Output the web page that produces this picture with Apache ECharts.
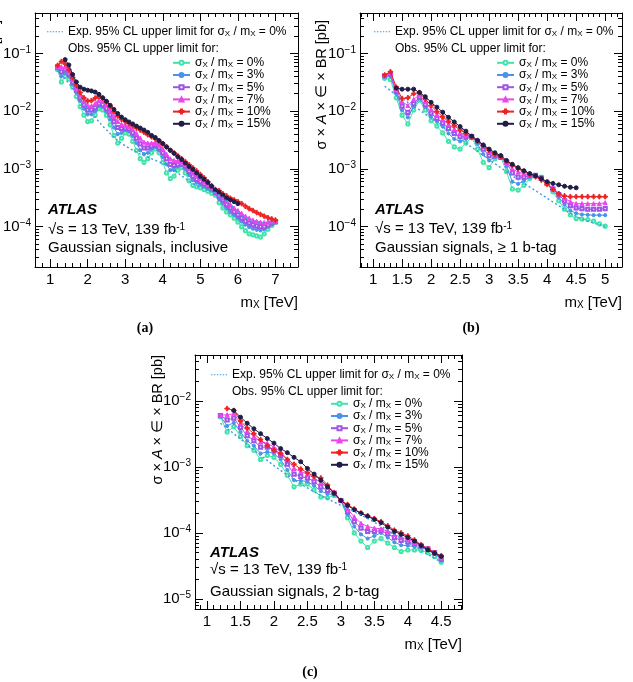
<!DOCTYPE html>
<html><head><meta charset="utf-8">
<script src="https://cdn.jsdelivr.net/npm/echarts@6/dist/echarts.min.js"></script>
<style>html,body{margin:0;padding:0;background:#fff}#c{width:633px;height:682px}</style>
</head><body><div id="c"></div>
<script>
// ---------------- DATA ----------------
const ratios = ['0%','3%','5%','7%','10%','15%'];

// (a) inclusive
const massA = [1.2,1.3,1.4,1.5,1.6,1.7,1.8,1.9,2.0,2.1,2.2,2.3,2.4,2.5,2.6,2.7,2.8,2.9,3.0,3.1,3.2,3.3,3.4,3.5,3.6,3.7,3.8,3.9,4.0,4.1,4.2,4.3,4.4,4.5,4.6,4.7,4.8,4.9,5.0,5.1,5.2,5.3,5.4,5.5,5.6,5.7,5.8,5.9,6.0,6.1,6.2,6.3,6.4,6.5,6.6,6.7,6.8,6.9,7.0];
const a0 = [0.052,0.032,0.040,0.036,0.026,0.018,0.012,0.0085,0.0066,0.0068, 0.0085,0.011,0.0105,0.0085,0.0058,0.0038,0.0028,0.0034,0.0042,0.0040, 0.0030,0.0021,0.0015,0.0013,0.0015,0.0019,0.0022,0.0019,0.0013,0.00085, 0.00068,0.00075,0.00095,0.00105,0.00085,0.00062,0.00052,0.00049,0.00047,0.00044, 0.00041,0.00038,0.00035,0.00026,0.00021,0.00018,0.00016,0.00014,0.00012,0.0001, 0.000085,0.000075,0.000072,0.000069,0.000066,0.000075,0.00009,0.000105,0.000118];
const a3 = [0.055,0.040,0.046,0.040,0.029,0.021,0.015,0.011,0.0088,0.0088, 0.010,0.0122,0.0118,0.0098,0.0072,0.0052,0.0040,0.0042,0.0047,0.0045, 0.0037,0.0028,0.0021,0.0018,0.0019,0.0022,0.0024,0.0021,0.0016,0.0012, 0.00095,0.00095,0.0011,0.00115,0.001,0.00078,0.00064,0.00058,0.00054,0.0005, 0.00046,0.00042,0.00037,0.0003,0.00025,0.00021,0.00018,0.00016,0.00014,0.000122, 0.000108,0.000098,0.000092,0.000088,0.000086,0.00009,0.0001,0.00011,0.00012];
const a5 = [0.057,0.048,0.052,0.044,0.032,0.023,0.017,0.0128,0.0105,0.0105, 0.0115,0.0135,0.013,0.011,0.0086,0.0066,0.0052,0.0050,0.0051,0.0049, 0.0042,0.0034,0.0027,0.0023,0.0023,0.0025,0.0026,0.0023,0.0019,0.0015, 0.0012,0.00115,0.0012,0.00122,0.0011,0.0009,0.00075,0.00066,0.0006,0.00055, 0.0005,0.00045,0.00039,0.00034,0.00029,0.00024,0.00021,0.00018,0.00016,0.00014, 0.000125,0.000115,0.000108,0.000103,0.0001,0.0001,0.000107,0.000115,0.000122];
const a7 = [0.059,0.058,0.058,0.048,0.035,0.025,0.019,0.0148,0.0125,0.0123, 0.0135,0.0155,0.0148,0.0126,0.0101,0.0081,0.0066,0.0059,0.0057,0.0054, 0.0048,0.0041,0.0034,0.0029,0.0028,0.0028,0.0028,0.0026,0.0022,0.0018, 0.0015,0.0014,0.00138,0.00132,0.0012,0.00103,0.00088,0.00076,0.00068,0.0006, 0.00054,0.00048,0.0004,0.00037,0.00032,0.00027,0.00024,0.00021,0.00019,0.00017, 0.000152,0.00014,0.00013,0.000124,0.00012,0.000118,0.00012,0.000122,0.000125];
const a10 = [0.062,0.072,0.066,0.052,0.038,0.028,0.021,0.017,0.015,0.0152, 0.0168,0.018,0.0168,0.0145,0.012,0.0098,0.0082,0.0072,0.0066,0.0061, 0.0056,0.0051,0.0047,0.0043,0.0039,0.0036,0.0033,0.003,0.0027,0.0024, 0.0021,0.00188,0.00168,0.0015,0.00133,0.00118,0.00104,0.00092,0.0008,0.0007, 0.0006,0.00051,0.00044,0.00042,0.00037,0.00034,0.00031,0.00029,0.00027,0.00025, 0.000225,0.000205,0.00019,0.000175,0.000163,0.000152,0.000143,0.000136,0.00013];
const a15 = [null,null,0.078,0.063,0.043,0.032,0.026,0.024,0.023,0.0224, 0.0214,0.0195,0.017,0.0148,0.0126,0.0107,0.0091,0.0079,0.0071,0.0065, 0.006,0.0055,0.0051,0.0047,0.0043,0.0038,0.0035,0.0031,0.00275,0.0024, 0.0021,0.00186,0.00162,0.00145,0.00126,0.0011,0.00098,0.00085,0.00074,0.00066, 0.00058,0.0005,0.00043,0.00039,0.00035,0.00031,0.00029,0.00027,0.00025];
const massExpA = [1.2,1.4,1.6,1.8,2.0,2.2,2.4,2.6,2.8,3.0,3.2,3.4,3.6,3.8,4.0,4.2,4.4,4.6,4.8,5.0,5.2,5.4,5.6,5.8,6.0,6.2,6.4,6.6,6.8,7.0];
const expA = [0.05,0.036,0.025,0.017,0.011,0.0078,0.0055,0.0041,0.0031,0.0025,0.0021,0.0018,0.0016,0.0014,0.00125,0.0011,0.00085,0.00068,0.00056,0.00048,0.00043,0.00039,0.00032,0.00024,0.00018,0.00014,0.000125,0.000118,0.000115,0.000115];

// (b) >= 1 b-tag
const massB = [1.2,1.3,1.4,1.5,1.6,1.7,1.8,1.9,2.0,2.1,2.2,2.3,2.4,2.5,2.6,2.7,2.8,2.9,3.0,3.1,3.2,3.3,3.4,3.5,3.6,3.7,3.8,3.9,4.0,4.1,4.2,4.3,4.4,4.5,4.6,4.7,4.8,4.9,5.0];
const b0 = [0.037,0.035,0.017,0.0085,0.006,0.0105,0.0155,0.0105,0.0068,0.0055, 0.0042,0.003,0.0024,0.0022,0.0028,0.0035,0.0022,0.0013,0.00105,0.0015, 0.0016,0.0009,0.00045,0.00043,0.00052,0.00068,0.00075,0.00072,0.00056,0.0004, 0.00028,0.0002,0.00016,0.000138,0.000135,0.000133,0.000125,0.000112,0.000102];
const b3 = [0.039,0.040,0.020,0.0105,0.0078,0.012,0.0165,0.0118,0.008,0.0066, 0.0054,0.0041,0.0033,0.003,0.0033,0.0037,0.0027,0.0018,0.0014,0.0016, 0.0017,0.0011,0.0006,0.00055,0.00062,0.00072,0.00076,0.0007,0.00056,0.00043, 0.00032,0.00024,0.00019,0.00017,0.000162,0.00016,0.000158,0.000158,0.000158];
const b5 = [0.041,0.044,0.022,0.0122,0.0095,0.0135,0.0175,0.013,0.0092,0.0075, 0.0062,0.005,0.0041,0.0036,0.0036,0.0036,0.003,0.0022,0.0017,0.0017, 0.0016,0.0013,0.00085,0.00072,0.00072,0.00076,0.00077,0.00069,0.00056,0.00045, 0.00036,0.00028,0.00023,0.00021,0.000205,0.0002,0.0002,0.0002,0.000205];
const b7 = [0.043,0.047,0.024,0.0145,0.0125,0.016,0.019,0.0145,0.0108,0.0087, 0.0072,0.0059,0.0049,0.0042,0.0039,0.0036,0.0032,0.0026,0.002,0.0018, 0.0016,0.0013,0.001,0.00088,0.00082,0.00079,0.00076,0.00068,0.00056,0.00046, 0.00038,0.00031,0.00027,0.00025,0.00025,0.00025,0.00025,0.00025,0.00026];
const b10 = [0.042,0.048,0.026,0.0165,0.017,0.02,0.021,0.0162,0.0125,0.0098, 0.008,0.0066,0.0056,0.0047,0.0041,0.0035,0.003,0.0025,0.0021,0.0018, 0.0016,0.00135,0.00115,0.001,0.0009,0.0008,0.00073,0.00064,0.00054,0.00044, 0.00037,0.00034,0.00033,0.00033,0.00033,0.00033,0.00033,0.00033,0.00033];
const b15 = [null,null,0.025,0.024,0.024,0.024,0.021,0.0178,0.0142,0.0117, 0.0096,0.0078,0.0065,0.0054,0.0045,0.0037,0.0031,0.0026,0.0022,0.0019, 0.0017,0.0014,0.0012,0.00105,0.00093,0.00083,0.00076,0.00068,0.0006,0.00056, 0.00053,0.0005,0.00048,0.00047];
const massExpB = [1.2,1.4,1.6,1.8,2.0,2.2,2.4,2.6,2.8,3.0,3.2,3.4,3.6,3.8,4.0,4.2,4.4,4.6,4.8,5.0];
const expB = [0.027,0.019,0.0142,0.0105,0.0075,0.0054,0.0039,0.0028,0.002,0.00145,0.00105,0.00076,0.00056,0.00042,0.00031,0.00023,0.00017,0.000135,0.000115,0.0001];

// (c) 2 b-tag
const massC = [1.2,1.3,1.4,1.5,1.6,1.7,1.8,1.9,2.0,2.1,2.2,2.3,2.4,2.5,2.6,2.7,2.8,2.9,3.0,3.1,3.2,3.3,3.4,3.5,3.6,3.7,3.8,3.9,4.0,4.1,4.2,4.3,4.4,4.5];
const c0 = [0.0058,0.0034,0.0041,0.0029,0.0021,0.0018,0.0013,0.0015,0.0014,0.0011, 0.00075,0.0005,0.00055,0.00055,0.00045,0.00035,0.00034,0.00037,0.00031,0.00017, 0.0001,0.000075,0.00006,0.000075,0.000082,0.00007,0.00006,0.000052,0.000055,0.000055, 0.000054,0.00005,0.000044,0.000036];
const c3 = [0.0059,0.0042,0.0047,0.0034,0.0025,0.0021,0.0016,0.0017,0.0016,0.0013, 0.0009,0.00063,0.00062,0.0006,0.00052,0.00043,0.00039,0.00038,0.00031,0.00019, 0.000125,0.000095,0.000082,0.00009,0.0001,0.000085,0.000072,0.000065,0.000064,0.000062, 0.00006,0.000055,0.000048,0.000038];
const c5 = [0.006,0.0052,0.0055,0.004,0.003,0.0025,0.002,0.002,0.0018,0.0015, 0.0011,0.00078,0.00072,0.00068,0.0006,0.0005,0.00044,0.0004,0.00031,0.00021, 0.000148,0.000118,0.000105,0.000105,0.000108,0.000097,0.000085,0.000077,0.000073,0.000068, 0.000063,0.000057,0.00005,0.00004];
const c7 = [0.0061,0.0062,0.0064,0.0046,0.0035,0.0029,0.0024,0.0023,0.002,0.0017, 0.0013,0.00095,0.00085,0.00078,0.00068,0.00058,0.00049,0.00042,0.00031,0.00023, 0.000175,0.00014,0.000125,0.000118,0.000115,0.000106,0.000094,0.000086,0.00008,0.000072, 0.000065,0.000058,0.000051,0.000042];
const c10 = [null,0.0077,0.0072,0.005,0.0039,0.0032,0.0026,0.0021,0.0018,0.0016, 0.0013,0.0011,0.00093,0.00082,0.00072,0.00068,0.00053,0.0004,0.00031,0.00027, 0.00023,0.0002,0.000182,0.000165,0.000148,0.000128,0.00011,0.0001,0.00009,0.000078, 0.000066,0.000057,0.00005,0.000045];
const c15 = [null,null,0.0072,0.0057,0.0046,0.0038,0.0032,0.0027,0.0023,0.0019, 0.00165,0.0014,0.0012,0.00095,0.00078,0.00063,0.0005,0.0004,0.00031,0.00026, 0.000225,0.000198,0.000178,0.00016,0.000143,0.000122,0.000105,0.000095,0.000085,0.000075, 0.000064,0.000055,0.000049,0.000044];
const massExpC = [1.2,1.4,1.6,1.8,2.0,2.2,2.4,2.6,2.8,3.0,3.2,3.4,3.6,3.8,4.0,4.2,4.4,4.5];
const expC = [0.0046,0.0032,0.0022,0.0015,0.00105,0.00075,0.00055,0.00042,0.00033,0.00026,0.00021,0.000165,0.000127,0.000095,0.000072,0.000054,0.000041,0.000036];

// tick positions
const xMajorA = [1,2,3,4,5,6,7];
const xMinorA = [0.8,1.2,1.4,1.6,1.8,2.2,2.4,2.6,2.8,3.2,3.4,3.6,3.8,4.2,4.4,4.6,4.8,5.2,5.4,5.6,5.8,6.2,6.4,6.6,6.8,7.2,7.4];
const xMajorB = [1,1.5,2,2.5,3,3.5,4,4.5,5];
const xMinorB = [0.8,0.9,1.1,1.2,1.3,1.4,1.6,1.7,1.8,1.9,2.1,2.2,2.3,2.4,2.6,2.7,2.8,2.9,3.1,3.2,3.3,3.4,3.6,3.7,3.8,3.9,4.1,4.2,4.3,4.4,4.6,4.7,4.8,4.9,5.1,5.2];
const xMajorC = [1,1.5,2,2.5,3,3.5,4,4.5];
const xMinorC = [0.9,1.1,1.2,1.3,1.4,1.6,1.7,1.8,1.9,2.1,2.2,2.3,2.4,2.6,2.7,2.8,2.9,3.1,3.2,3.3,3.4,3.6,3.7,3.8,3.9,4.1,4.2,4.3,4.4,4.6,4.7,4.8];
const yMajorAB = [1e-4,1e-3,1e-2,1e-1];
const yMinorAB = [3e-5,4e-5,5e-5,6e-5,7e-5,8e-5,9e-5,2e-4,3e-4,4e-4,5e-4,6e-4,7e-4,8e-4,9e-4,2e-3,3e-3,4e-3,5e-3,6e-3,7e-3,8e-3,9e-3,2e-2,3e-2,4e-2,5e-2,6e-2,7e-2,8e-2,9e-2,2e-1,3e-1,4e-1];
const yMajorC = [1e-5,1e-4,1e-3,1e-2];
const yMinorC = [8e-6,9e-6,2e-5,3e-5,4e-5,5e-5,6e-5,7e-5,8e-5,9e-5,2e-4,3e-4,4e-4,5e-4,6e-4,7e-4,8e-4,9e-4,2e-3,3e-3,4e-3,5e-3,6e-3,7e-3,8e-3,9e-3,2e-2,3e-2,4e-2];

// ---------------- STYLE ----------------
const FONT = '"Liberation Sans", Arial, Helvetica, sans-serif';
const COL = {'0%':'#3fe4a8','3%':'#4a93e8','5%':'#9c55e6','7%':'#ee44ee','10%':'#ee2222','15%':'#1e1e48'};
const EXPCOL = '#3d9be2';
const PLUS = 'path://M3,0h2v3h3v2h-3v3h-2v-3h-3v-2h3z';
const SYM = {'0%':['emptyCircle',3.2],'3%':['circle',3.2],'5%':['emptyRect',3.2],'7%':['triangle',4],'10%':[PLUS,4.5],'15%':['circle',4]};
const DOTS = 'path://M0,0h1.5v1h-1.5z M3,0h1.5v1h-1.5z M6,0h1.5v1h-1.5z M9,0h1.5v1h-1.5z M12,0h1.5v1h-1.5z M15,0h1.5v1h-1.5z';

const panels = [
  {grid:{left:33,top:13,width:265,height:254}, xr:[0.6,7.6], yr:[2e-5,0.5], xMaj:xMajorA, xMin:xMinorA, yMaj:yMajorAB, yMin:yMinorAB,
   mass:massA, obs:[a0,a3,a5,a7,a10,a15], expM:massExpA, exp:expA,
   expLeg:{left:47, top:25.8}, obsText:{x:68,y:49}, obsLeg:{left:172, top:56.8}, atlas:{x:48,y:210}, dy:[20,38],
   sel:'inclusive', xname:{x:298,y:303}, yname:{x:-5,y:20}, cap:{t:'(a)',x:145,y:328}},
  {grid:{left:360,top:13,width:262,height:254}, xr:[0.775,5.29], yr:[2e-5,0.5], xMaj:xMajorB, xMin:xMinorB, yMaj:yMajorAB, yMin:yMinorAB,
   mass:massB, obs:[b0,b3,b5,b7,b10,b15], expM:massExpB, exp:expB,
   expLeg:{left:374, top:25.8}, obsText:{x:395,y:49}, obsLeg:{left:496, top:56.8}, atlas:{x:375,y:210}, dy:[19,38],
   sel:'\u2265 1 b-tag', xname:{x:622,y:303}, yname:{x:322,y:20}, cap:{t:'(b)',x:471,y:328}},
  {grid:{left:195,top:355,width:267,height:254}, xr:[0.82,4.81], yr:[7e-6,0.05], xMaj:xMajorC, xMin:xMinorC, yMaj:yMajorC, yMin:yMinorC,
   mass:massC, obs:[c0,c3,c5,c7,c10,c15], expM:massExpC, exp:expC,
   expLeg:{left:211, top:368.8}, obsText:{x:232,y:392}, obsLeg:{left:330, top:397.8}, atlas:{x:210,y:553}, dy:[17,39],
   sel:'2 b-tag', xname:{x:462,y:645}, yname:{x:158,y:355}, cap:{t:'(c)',x:310,y:672}}
];

function pairs(m, v){ const out=[]; for(let i=0;i<v.length;i++){ if(v[i]!=null) out.push([m[i], v[i]]); } return out; }

const BLACK = {color:'#000', width:1};
const xAxis=[], yAxis=[], series=[], legend=[], graphic=[];
const supRich = {b:{fontSize:15, fontFamily:FONT, color:'#000', lineHeight:17}, s:{fontSize:10, fontFamily:FONT, color:'#000', verticalAlign:'top', lineHeight:10}};
const legRich = {t:{fontSize:12, fontFamily:FONT, color:'#000', lineHeight:12.4}, x:{fontSize:8, fontFamily:FONT, color:'#000', verticalAlign:'bottom', lineHeight:7}};

panels.forEach((p,g)=>{
  const xb = {gridIndex:g, type:'value', min:p.xr[0], max:p.xr[1], splitLine:{show:false}};
  const maj = (vals, lab, pos) => ({...xb, position:pos, axisLine:{show:true,onZero:false,lineStyle:BLACK},
      axisTick:{show:true,inside:true,length:8,customValues:vals,lineStyle:BLACK},
      axisLabel: lab ? {show:true,customValues:vals,fontSize:15,fontFamily:FONT,color:'#000',margin:5} : {show:false}});
  const mnr = (vals, pos) => ({...xb, position:pos, axisLine:{show:false},
      axisTick:{show:true,inside:true,length:4,customValues:vals,lineStyle:BLACK}, axisLabel:{show:false}});
  xAxis.push(maj(p.xMaj,true,'bottom'), mnr(p.xMin,'bottom'), maj(p.xMaj,false,'top'), mnr(p.xMin,'top'));
  const yb = {gridIndex:g, type:'log', logBase:10, min:p.yr[0], max:p.yr[1], splitLine:{show:false}};
  const ymaj = (vals, lab, pos) => ({...yb, position:pos, axisLine:{show:true,onZero:false,lineStyle:BLACK},
      axisTick:{show:true,inside:true,length:8,customValues:vals,lineStyle:BLACK},
      axisLabel: lab ? {show:true,customValues:vals,margin:4,
        formatter:v=>'{b|10}{s|\u2212'+Math.round(-Math.log10(v))+'}', rich:supRich} : {show:false}});
  const ymnr = (vals, pos) => ({...yb, position:pos, axisLine:{show:false},
      axisTick:{show:true,inside:true,length:4,customValues:vals,lineStyle:BLACK}, axisLabel:{show:false}});
  yAxis.push(ymaj(p.yMaj,true,'left'), ymnr(p.yMin,'left'), ymaj(p.yMaj,false,'right'), ymnr(p.yMin,'right'));

  p.obs.forEach((vals,k)=>{
    const r = ratios[k];
    series.push({type:'line', name:r, xAxisIndex:4*g, yAxisIndex:4*g, data:pairs(p.mass, vals),
      symbol:SYM[r][0], symbolSize:SYM[r][1], showSymbol:true, lineStyle:{width:1,color:COL[r]},
      itemStyle:{color:COL[r], borderColor:COL[r], borderWidth:1}, emphasis:{disabled:true}, z:2+k, animation:false});
  });
  series.push({type:'line', name:'exp', xAxisIndex:4*g, yAxisIndex:4*g, data:pairs(p.expM,p.exp),
      symbol:'none', lineStyle:{width:1.4,color:EXPCOL,type:[2,2.5]}, itemStyle:{color:EXPCOL}, emphasis:{disabled:true}, z:10, animation:false});

  legend.push({left:p.obsLeg.left, top:p.obsLeg.top, orient:'vertical', itemWidth:17, itemHeight:5, itemGap:0, padding:0,
    selectedMode:false, data:ratios, formatter:n=>'{t|\u03c3}{x|X}{t| / m}{x|X}{t| = '+n+'}', textStyle:{rich:legRich}});
  legend.push({left:p.expLeg.left, top:p.expLeg.top, orient:'vertical', itemWidth:16, itemHeight:1.5, padding:0,
    selectedMode:false, data:[{name:'exp', icon:DOTS}], formatter:()=>'{t|Exp. 95% CL upper limit for \u03c3}{x|X}{t| / m}{x|X}{t| = 0%}', textStyle:{rich:legRich}});

  const txt = (x,y,text,opts) => ({type:'text', x, y, silent:true, style:Object.assign({text, fill:'#000', fontFamily:FONT, fontSize:15, align:'left', verticalAlign:'middle'}, opts||{})});
  graphic.push(txt(p.obsText.x, p.obsText.y, 'Obs. 95% CL upper limit for:', {fontSize:12}));
  graphic.push(txt(p.atlas.x, p.atlas.y, 'ATLAS', {fontStyle:'italic', fontWeight:'bold'}));
  graphic.push(txt(p.atlas.x, p.atlas.y+p.dy[0], '\u221as = 13 TeV, 139 fb{s|-1}', {rich:{s:{fontSize:10,fontFamily:FONT,fill:'#000',verticalAlign:'top',lineHeight:10}}}));
  graphic.push(txt(p.atlas.x, p.atlas.y+p.dy[1], 'Gaussian signals, '+p.sel));
  graphic.push(txt(p.xname.x, p.xname.y, 'm{x|X} [TeV]', {align:'right', rich:{x:{fontSize:10,fontFamily:FONT,fill:'#000',verticalAlign:'bottom',lineHeight:9}}}));
  graphic.push(Object.assign(txt(p.yname.x, p.yname.y, '\u03c3 \u00d7 {i|A} \u00d7 \u2208 \u00d7 BR [pb]', {align:'right', fontSize:14.5, rich:{i:{fontSize:14.5,fontFamily:FONT,fontStyle:'italic',fill:'#000'}}}), {rotation:Math.PI/2}));
  graphic.push(txt(p.cap.x, p.cap.y, p.cap.t, {align:'center', fontFamily:'"Liberation Serif", "DejaVu Serif", serif', fontWeight:'bold', fontSize:14}));
});

const chart = echarts.init(document.getElementById('c'), null, {renderer:'canvas'});
chart.setOption({
  animation:false, backgroundColor:'#fff',
  grid: panels.map(p=>Object.assign({containLabel:false}, p.grid)),
  xAxis, yAxis, series, legend, graphic
});
</script></body></html>
